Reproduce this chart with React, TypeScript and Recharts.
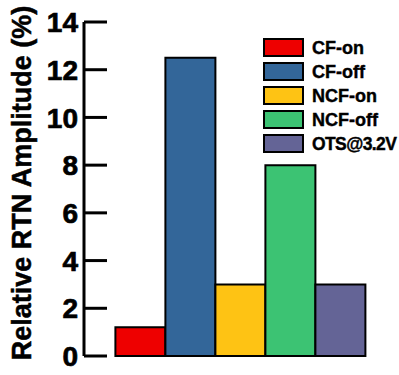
import React from 'react';
import { BarChart, Bar, XAxis, YAxis, Legend } from 'recharts';

const categories = ['devices'];
const seriesNames = ['CF-on', 'CF-off', 'NCF-on', 'NCF-off', 'OTS@3.2V'];
const seriesValues = [1.2, 12.5, 3.0, 8.0, 3.0];
const seriesColors = ['#ee0000', '#336699', '#fec314', '#3cc373', '#646496'];
const yMajorTicks = [0, 2, 4, 6, 8, 10, 12, 14];
const yLabel = 'Relative RTN Amplitude (%)';

const FONT = '"Liberation Sans", Arial, Helvetica, sans-serif';

const data = categories.map((c) => {
  const row: Record<string, any> = { category: c };
  seriesValues.forEach((v, i) => {
    row['s' + i] = v;
  });
  return row;
});

const YTickText = (props: any) => {
  const x = Number(props.x);
  const y = Number(props.y);
  const v = props.payload?.value;
  return (
    <text
      x={x}
      y={y}
      dy="0.36em"
      textAnchor="end"
      fontSize={28}
      fontWeight="bold"
      fontFamily={FONT}
      fill="#000"
      stroke="#000"
      strokeWidth={0.7}
    >
      {v}
    </text>
  );
};

const AxisLabel = (props: any) => {
  const vb = props.viewBox || { x: 0, y: 22, width: 84, height: 334 };
  const cx = 22;
  const cy = vb.y + vb.height / 2 - 6;
  return (
    <text
      x={cx}
      y={cy}
      transform={`rotate(-90, ${cx}, ${cy})`}
      textAnchor="middle"
      dominantBaseline="central"
      fontSize={27}
      fontWeight="bold"
      fontFamily={FONT}
      fill="#000"
      stroke="#000"
      strokeWidth={0.5}
    >
      {yLabel}
    </text>
  );
};

const renderLegend = () => (
  <svg width={136} height={125} style={{ display: 'block' }}>
    {seriesNames.map((n, i) => (
      <g key={n}>
        <rect x={2} y={3 + i * 24} width={39} height={17} fill={seriesColors[i]} stroke="#000" strokeWidth={2} />
        <text
          x={50}
          y={3 + i * 24 + 8.5}
          dy="0.36em"
          fontSize={n === 'OTS@3.2V' ? 17.5 : 18}
          letterSpacing={n === 'OTS@3.2V' ? -0.6 : 0}
          fontWeight="bold"
          fontFamily={FONT}
          fill="#000"
          stroke="#000"
          strokeWidth={0.4}
        >
          {n}
        </text>
      </g>
    ))}
  </svg>
);

export default function App() {
  return (
    <div style={{ position: 'absolute', left: 0, top: 0, width: 399, height: 375, background: '#fff' }}>
      <BarChart
        width={399}
        height={375}
        data={data}
        margin={{ top: 22, right: 1, bottom: 19, left: 0 }}
        barCategoryGap="10%"
        barGap={0}
      >
        <XAxis dataKey="category" height={0} tick={false} tickLine={false} axisLine={{ stroke: '#000', strokeWidth: 3 }} />
        <XAxis xAxisId="top" orientation="top" dataKey="category" height={0} tick={false} tickLine={false} axisLine={{ stroke: '#000', strokeWidth: 3 }} />
        <YAxis
          width={84}
          domain={[0, 14]}
          ticks={yMajorTicks}
          interval={0}
          tickSize={-23}
          tickMargin={29}
          tickLine={{ stroke: '#000', strokeWidth: 3 }}
          tick={(p: any) => <YTickText {...p} />}
          axisLine={{ stroke: '#000', strokeWidth: 3 }}
          label={{ content: <AxisLabel /> } as any}
        />
        <YAxis yAxisId="right" orientation="right" width={0} domain={[0, 14]} tick={false} tickLine={false} axisLine={{ stroke: '#000', strokeWidth: 3 }} />
        <Legend
          layout="vertical"
          align="center"
          verticalAlign="middle"
          wrapperStyle={{ position: 'absolute', left: 262, top: 36, width: 136, height: 125 }}
          content={renderLegend}
        />
        {seriesNames.map((n, i) => (
          <Bar
            key={n}
            dataKey={'s' + i}
            name={n}
            fill={seriesColors[i]}
            stroke="#000"
            strokeWidth={2}
            isAnimationActive={false}
          />
        ))}
      </BarChart>
    </div>
  );
}
